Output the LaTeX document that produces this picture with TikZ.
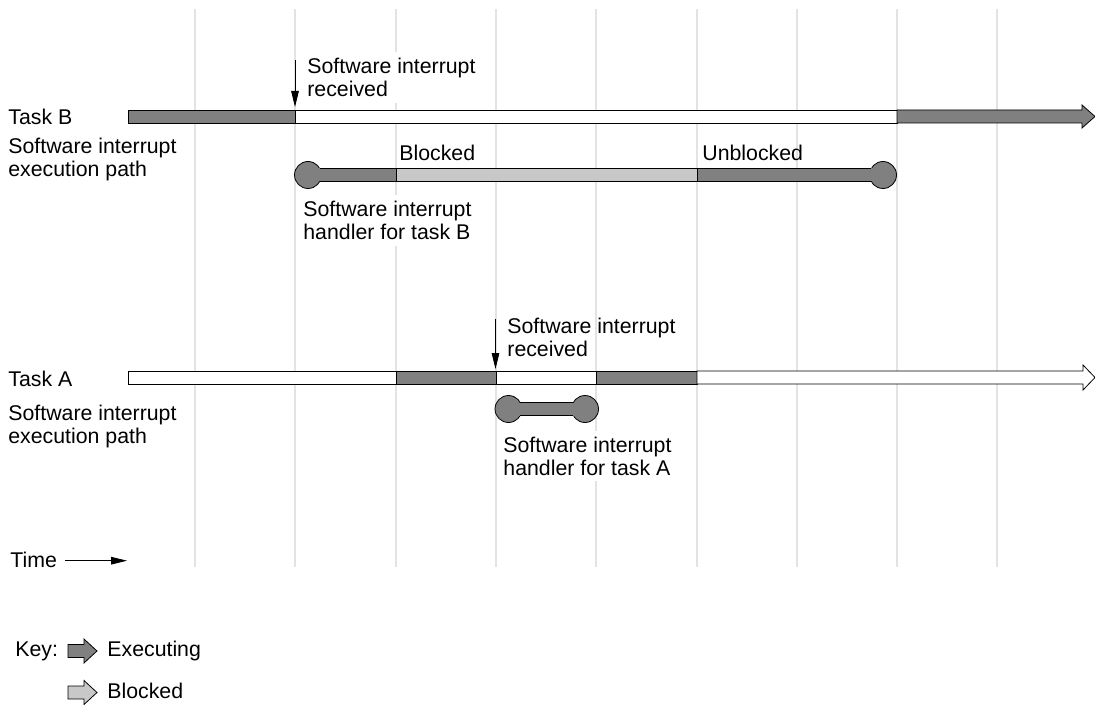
\documentclass[tikz,border=0pt]{standalone}
\usepackage{fontspec}
\setmainfont{Liberation Sans}
\usetikzlibrary{arrows.meta}
\definecolor{exec}{HTML}{808080}
\definecolor{bloque}{HTML}{C8C8C8}
\definecolor{grille}{HTML}{E3E3E3}

\begin{document}
\begin{tikzpicture}[x=0.5pt,y=-0.5pt,
  txt/.style={anchor=base west,inner sep=0pt,align=left,font=\fontsize{10.65}{11.4}\selectfont},
  txtfond/.style={txt,fill=white,inner ysep=3pt},
  signal/.style={-{Triangle[length=8pt,width=3.8pt]},thin}]
\useasboundingbox (0,0) rectangle (1095,705);
%grille
\foreach \gx in {195,295,396,496,596,697,797,897,997}
  \draw[grille,line width=1.25pt] (\gx,9) -- (\gx,567);
%fin

%tache B
\node[txt] (tB) at (8,125) {Task B};
\node[txt] (cheminB) at (8,176.7) {Software interrupt\\execution path};
\filldraw[fill=exec,thin] (128,110) rectangle (295,123);
\filldraw[fill=white,thin] (295,110) rectangle (897,123);
\filldraw[fill=exec,thin] (897,110) -- (1082,110) -- (1082,105) -- (1095,116.5)
  -- (1082,128) -- (1082,123) -- (897,123) -- cycle;
\node[txtfond] (recuB) at (307,96.7) {Software interrupt\\received};
\coordinate (recuBhaut) at (295,60);
\coordinate (recuBbas) at (295,107);
\draw[signal] (recuBhaut) -- (recuBbas);
%routine B
\filldraw[fill=exec,thin] (308,175) circle (13.5) (883,175) circle (13.5);
\fill[exec] (308,168.5) rectangle (396,181.5);
\fill[bloque] (396,168.5) rectangle (697,181.5);
\fill[exec] (697,168.5) rectangle (883,181.5);
\draw[thin] (319.8,168.5) -- (871.2,168.5) (319.8,181.5) -- (871.2,181.5);
\draw[thin] (396,168.5) -- (396,181.5) (697,168.5) -- (697,181.5);
\node[txt] (bloq) at (399,160.7) {Blocked};
\node[txt] (debloq) at (702,160.7) {Unblocked};
\node[txtfond] (routB) at (303,239.3) {Software interrupt\\handler for task B};

%tache A
\node[txt] (tA) at (8,386) {Task A};
\node[txt] (cheminA) at (8,443.3) {Software interrupt\\execution path};
\filldraw[fill=white,thin] (128,371) rectangle (396,384);
\filldraw[fill=exec,thin] (396,371) rectangle (496,384);
\filldraw[fill=white,thin] (496,371) rectangle (596,384);
\filldraw[fill=exec,thin] (596,371) rectangle (697,384);
\filldraw[fill=white,thin] (697,371) -- (1083,371) -- (1083,365) -- (1095,377.5)
  -- (1083,390) -- (1083,384) -- (697,384) -- cycle;
\node[txt] (recuA) at (507,356) {Software interrupt\\received};
\coordinate (recuAhaut) at (495.5,319);
\coordinate (recuAbas) at (495.5,369);
\draw[signal] (recuAhaut) -- (recuAbas);
%routine A
\filldraw[fill=exec,thin] (508.5,409) circle (13.5) (585,409) circle (13.5);
\fill[exec] (508.5,402.5) rectangle (585,415.5);
\draw[thin] (520.3,402.5) -- (573.2,402.5) (520.3,415.5) -- (573.2,415.5);
\node[txtfond] (routA) at (503,475) {Software interrupt\\handler for task A};

%temps
\node[txt] (temps) at (10,567.3) {Time};
\coordinate (tempsfin) at (127,560.7);
\draw[signal] (temps.east |- tempsfin) ++(8,0) -- (tempsfin);

%legende
\node[txt] (cle) at (15,656.7) {Key:};
\filldraw[fill=exec,thin] (68,644.5) -- (84,644.5) -- (84,639) -- (97,651)
  -- (84,663) -- (84,657.5) -- (68,657.5) -- cycle;
\node[txt] (lgexec) at (107,656.7) {Executing};
\filldraw[fill=bloque,thin] (68,686) -- (84,686) -- (84,680.5) -- (97,692.5)
  -- (84,704.5) -- (84,699) -- (68,699) -- cycle;
\node[txt] (lgbloq) at (107,698.3) {Blocked};
\end{tikzpicture}
\end{document}
